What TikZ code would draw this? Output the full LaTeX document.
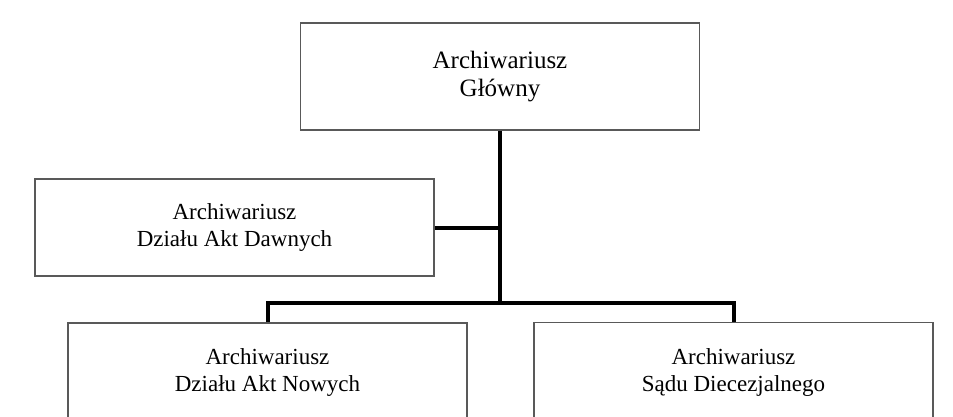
\documentclass[tikz,border=0pt]{standalone}
\usepackage{fontspec}
\setmainfont{Liberation Serif}
\begin{document}
\begin{tikzpicture}[x=1pt,y=-1pt,
  box/.style={draw=black!65, line width=1.5pt, minimum width=399pt, align=center, inner sep=0pt, font=\fontsize{23}{27}\selectfont},
  link/.style={line width=4pt}]
\useasboundingbox (0,0) rectangle (953,417);
\node [box, minimum height=107pt, font=\fontsize{25}{28}\selectfont] (glowny) at (500,76.5) {Archiwariusz\\Główny};
\node [box, minimum height=97pt] (dawne) at (234.5,227.5) {Archiwariusz\\Działu Akt Dawnych};
\node [box, minimum height=99pt] (nowe) at (267.5,372.5) {Archiwariusz\\Działu Akt Nowych};
\node [box, minimum height=99pt] (sad) at (733.5,372) {Archiwariusz\\Sądu Diecezjalnego};
\coordinate (bus) at (500,303);
\draw [link] (glowny.south) -- (bus);
\draw [link] (dawne.east) -- (dawne.east -| bus);
\draw [link] (nowe.north) -- (nowe.north |- bus) -- (sad.north |- bus) -- (sad.north);
\end{tikzpicture}
\end{document}
